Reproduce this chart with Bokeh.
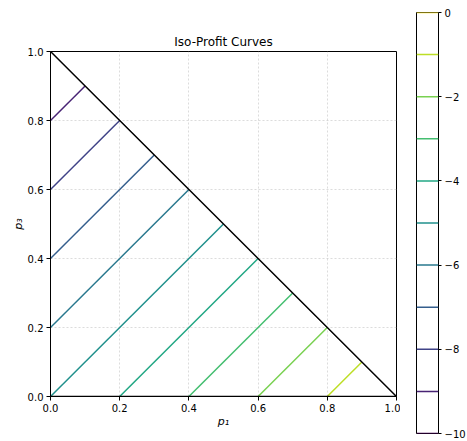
from bokeh.plotting import figure
from bokeh.models import ColumnDataSource, LinearColorMapper, FixedTicker
from bokeh.palettes import Viridis256
from bokeh.embed import file_html
from bokeh.resources import INLINE

# ---- data ----
levels = [-10, -9, -8, -7, -6, -5, -4, -3, -2, -1, 0]
cbar_ticks = [-10, -8, -6, -4, -2, 0]
seg_level = [-9, -8, -7, -6, -5, -4, -3, -2, -1]
seg_x0 = [0.0, 0.0, 0.0, 0.0, 0.0, 0.2, 0.4, 0.6, 0.8]
seg_y0 = [0.8, 0.6, 0.4, 0.2, 0.0, 0.0, 0.0, 0.0, 0.0]
seg_x1 = [0.1, 0.2, 0.3, 0.4, 0.5, 0.6, 0.7, 0.8, 0.9]
seg_y1 = [0.9, 0.8, 0.7, 0.6, 0.5, 0.4, 0.3, 0.2, 0.1]
boundary_x = [0.0, 1.0, 0.0]
boundary_y = [0.0, 0.0, 1.0]
axis_ticks = [0.0, 0.2, 0.4, 0.6, 0.8, 1.0]

FONT = "DejaVu Sans"
mapper = LinearColorMapper(palette=Viridis256, low=-10, high=0)

p = figure(frame_width=346, frame_height=345, x_range=(0, 1), y_range=(0, 1),
           output_backend="svg", toolbar_location=None,
           min_border_left=41, min_border_top=43, min_border_bottom=36, min_border_right=4,
           title="Iso-Profit Curves")
p.title.align = "center"
p.title.text_font = FONT
p.title.text_font_size = "12px"
p.title.text_font_style = "normal"
p.title.text_color = "black"
p.title.standoff = 6

src = ColumnDataSource(dict(x0=seg_x0, y0=seg_y0, x1=seg_x1, y1=seg_y1, level=seg_level))
p.segment(x0="x0", y0="y0", x1="x1", y1="y1", source=src,
          line_color={"field": "level", "transform": mapper}, line_width=1.5)
p.line(boundary_x, boundary_y, line_color="black", line_width=1.5)

for ax in (p.xaxis, p.yaxis):
    ax.ticker = FixedTicker(ticks=axis_ticks)
    ax.major_label_overrides = {t: f"{t:.1f}" for t in axis_ticks}
    ax.major_label_text_font = FONT
    ax.major_label_text_font_size = "10px"
    ax.major_label_text_color = "black"
    ax.major_label_standoff = 3
    ax.major_tick_in = 0
    ax.major_tick_out = 4
    ax.minor_tick_line_color = None
    ax.axis_line_color = "black"
    ax.major_tick_line_color = "black"
    ax.axis_label_text_font = FONT
    ax.axis_label_text_font_size = "11px"
    ax.axis_label_text_font_style = "italic"
    ax.axis_label_text_color = "black"
    ax.axis_label_standoff = 0
p.xaxis.axis_label = "p₁"
p.yaxis.axis_label = "p₃"
p.yaxis.major_label_orientation = "horizontal"
p.grid.grid_line_color = "#c4c4c4"
p.grid.grid_line_dash = "2 2"
p.grid.grid_line_width = 0.6
p.outline_line_color = "black"
p.outline_line_width = 1
p.background_fill_color = "white"
p.styles = {"position": "absolute", "left": "8px", "top": "8px"}

# ---- colorbar ----
cb = figure(frame_width=22, frame_height=421, x_range=(0, 1), y_range=(-10, 0),
            output_backend="svg", toolbar_location=None, y_axis_location="right",
            min_border_left=11, min_border_top=4, min_border_bottom=6, min_border_right=27)
cbs = ColumnDataSource(dict(x0=[0] * len(levels), x1=[1] * len(levels), y=levels, level=levels))
cb.segment(x0="x0", y0="y", x1="x1", y1="y", source=cbs,
           line_color={"field": "level", "transform": mapper}, line_width=1.5)
cb.xaxis.visible = False
cb.grid.visible = False
cb.outline_line_color = "black"
cb.outline_line_width = 1
ya = cb.yaxis
ya.ticker = FixedTicker(ticks=cbar_ticks)
ya.major_label_overrides = {t: (str(t).replace("-", "−")) for t in cbar_ticks}
ya.major_label_text_font = FONT
ya.major_label_text_font_size = "10px"
ya.major_label_text_color = "black"
ya.major_label_standoff = 3
ya.major_tick_in = 0
ya.major_tick_out = 3
ya.minor_tick_line_color = None
ya.axis_line_color = None
ya.major_tick_line_color = "black"
cb.styles = {"position": "absolute", "left": "405px", "top": "8px"}

open("out.html", "w").write(file_html([p, cb], INLINE))
